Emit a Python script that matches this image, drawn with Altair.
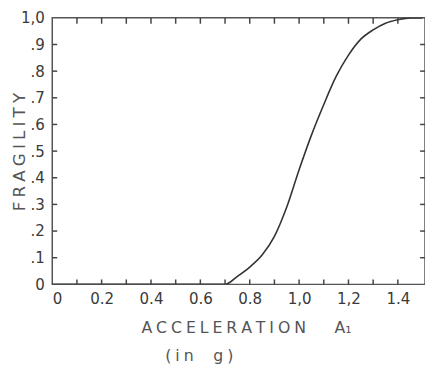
import json
import altair as alt
import pandas as pd

# curve
accel = [0.0, 0.70, 0.75, 0.80, 0.85, 0.90, 0.95, 1.00, 1.05, 1.10, 1.15, 1.20, 1.25, 1.30, 1.35, 1.40, 1.45, 1.50]
frag = [0.0, 0.0, 0.03, 0.065, 0.11, 0.18, 0.29, 0.43, 0.56, 0.675, 0.78, 0.86, 0.92, 0.955, 0.98, 0.993, 1.0, 1.0]

x_ticks = [0.1, 0.2, 0.3, 0.4, 0.5, 0.6, 0.7, 0.8, 0.9, 1.0, 1.1, 1.2, 1.3, 1.4]
y_ticks = [0.1, 0.2, 0.3, 0.4, 0.5, 0.6, 0.7, 0.8, 0.9]
x_label_vals = [0, 0.2, 0.4, 0.6, 0.8, 1.0, 1.2, 1.4]
x_label_text = ["0", "0.2", "0.4", "0.6", "0.8", "1,0", "1,2", "1.4"]
y_label_vals = [0, 0.1, 0.2, 0.3, 0.4, 0.5, 0.6, 0.7, 0.8, 0.9, 1.0]
y_label_text = ["0", ".1", ".2", ".3", ".4", ".5", ".6", ".7", ".8", ".9", "1,0"]

SP = "\u2005"  # letter-spaced lettering as in the original
x_title = SP.join("ACCELERATION") + "\u2003\u2002 A\u2081"
y_title = SP.join("FRAGILITY")
unit_title = "(" + SP + "i" + SP + "n\u2003" + SP + "g" + SP + ")"

W, H = 379, 271
LABEL_FONT = "Liberation Sans Narrow, DejaVu Sans Condensed, DejaVu Sans"
TITLE_FONT = "DejaVu Sans"
INK = "#3a3a3a"
TITLE_INK = "#555555"

curve = pd.DataFrame({"a": accel, "f": frag})
xt = pd.DataFrame({"a": x_ticks})
yt = pd.DataFrame({"f": y_ticks})

x_expr = json.dumps(x_label_text) + "[round(datum.value*5)]"
y_expr = json.dumps(y_label_text) + "[round(datum.value*10)]"

xscale = alt.Scale(domain=[0, 1.51], nice=False, zero=False)
yscale = alt.Scale(domain=[0, 1.0], nice=False)

x_axis = alt.Axis(
    values=x_label_vals, labelExpr=x_expr, title=x_title,
    titleX=197, titleY=44, titleBaseline="middle", titleAlign="center",
    labelPadding=6)
y_axis = alt.Axis(
    values=y_label_vals, labelExpr=y_expr, title=y_title,
    titleX=-33, titleY=136, titleBaseline="middle", titleAlign="center", titleAngle=270,
    titleFontSize=17, labelPadding=8)

X = alt.X("a:Q", scale=xscale, axis=x_axis)
Y = alt.Y("f:Q", scale=yscale, axis=y_axis)

line = alt.Chart(curve).mark_line(color="#333333", strokeWidth=1.6, interpolate="monotone", clip=True).encode(
    x=X, y=Y)

tick_style = dict(color="#444444", strokeWidth=1.5)
bottom = alt.Chart(xt).mark_rule(**tick_style).encode(
    x=X, y=alt.value(H), y2=alt.value(H - 5))
top = alt.Chart(xt).mark_rule(**tick_style).encode(
    x=X, y=alt.value(0), y2=alt.value(6))
left = alt.Chart(yt).mark_rule(**tick_style).encode(
    y=Y, x=alt.value(0), x2=alt.value(5))
right = alt.Chart(yt).mark_rule(**tick_style).encode(
    y=Y, x=alt.value(W), x2=alt.value(W - 5))

chart = alt.layer(line, bottom, top, left, right).properties(
    width=W, height=H,
    autosize="none",
    padding={"left": 45, "top": 7, "right": 0, "bottom": 80},
    title=alt.TitleParams(unit_title, orient="bottom", anchor="middle", dx=-40, offset=13,
                          font=TITLE_FONT, fontSize=16, fontWeight="normal", color=TITLE_INK),
).configure_view(
    stroke="#555555", strokeWidth=1.5
).configure_axis(
    domain=False, ticks=False, grid=False,
    labelFont=LABEL_FONT, labelFontSize=17, labelColor=INK,
    titleFont=TITLE_FONT, titleFontSize=16, titleFontWeight="normal", titleColor=TITLE_INK,
)

chart.save("out.html", embed_options={"renderer": "svg", "actions": False})
